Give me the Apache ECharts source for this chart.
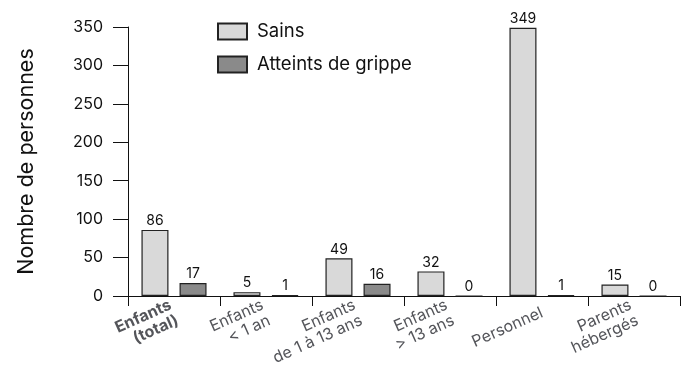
<!DOCTYPE html>
<html>
<head>
<meta charset="utf-8">
<script src="https://cdn.jsdelivr.net/npm/echarts@6/dist/echarts.min.js"></script>
<style>
html,body{margin:0;padding:0;background:#fff;overflow:hidden;}
#chart{width:682px;height:374px;}
</style>
</head>
<body>
<div id="chart"></div>
<script>
const categories = ['Enfants\n(total)', 'Enfants\n< 1 an', 'Enfants\nde 1 à 13 ans', 'Enfants\n> 13 ans', 'Personnel', 'Parents\nhébergés'];
const sains = [86, 5, 49, 32, 349, 15];
const atteints = [17, 1, 16, 0, 1, 0];
const yTicks = [0, 50, 100, 150, 200, 250, 300, 350];

const FONT = 'Inter, Arial, sans-serif';

const chart = echarts.init(document.getElementById('chart'), null, {renderer: 'canvas'});
chart.setOption({
  backgroundColor: '#fff',
  animation: false,
  grid: {left: 128, right: 2, top: 27, bottom: 78, containLabel: false},
  legend: {
    orient: 'vertical',
    left: 217,
    top: 22,
    padding: 0,
    itemWidth: 29,
    itemHeight: 16,
    itemGap: 14,
    icon: 'rect',
    data: ['Sains', 'Atteints de grippe'],
    textStyle: {fontFamily: FONT, fontSize: 18.5, lineHeight: 16, color: '#111', padding: [0, 0, 0, 5]}
  },
  xAxis: {
    type: 'category',
    data: categories.map((c, i) => i === 0 ? {value: c, textStyle: {fontWeight: 'bold'}} : c),
    axisLine: {show: true, lineStyle: {color: '#111', width: 1}},
    axisTick: {show: true, length: 10, interval: 0, alignWithLabel: false, lineStyle: {color: '#111', width: 1}},
    axisLabel: {
      show: true,
      interval: 0,
      rotate: 24,
      margin: 16,
      fontSize: 16,
      fontFamily: FONT,
      lineHeight: 17
    },
    splitLine: {show: false}
  },
  yAxis: {
    type: 'value',
    min: yTicks[0],
    max: yTicks[yTicks.length - 1],
    interval: 50,
    name: 'Nombre de personnes',
    nameLocation: 'middle',
    nameGap: 90,
    nameTextStyle: {fontFamily: FONT, fontSize: 21.5, color: '#111'},
    axisLine: {show: true, lineStyle: {color: '#111', width: 1}},
    axisTick: {show: true, length: 15, lineStyle: {color: '#111', width: 1}},
    axisLabel: {margin: 25, fontFamily: FONT, fontSize: 16, color: '#111'},
    splitLine: {show: false}
  },
  series: [
    {
      name: 'Sains',
      type: 'bar',
      data: sains,
      barWidth: 27,
      barGap: '41%',
      itemStyle: {color: '#d9d9d9', borderColor: '#222', borderWidth: 1.2},
      label: {show: true, position: 'top', distance: 2, fontFamily: FONT, fontSize: 14, color: '#111'}
    },
    {
      name: 'Atteints de grippe',
      type: 'bar',
      data: atteints,
      barWidth: 27,
      itemStyle: {color: '#8a8a8a', borderColor: '#222', borderWidth: 1.2},
      label: {show: true, position: 'top', distance: 2, fontFamily: FONT, fontSize: 14, color: '#111'}
    }
  ]
});
</script>
</body>
</html>
